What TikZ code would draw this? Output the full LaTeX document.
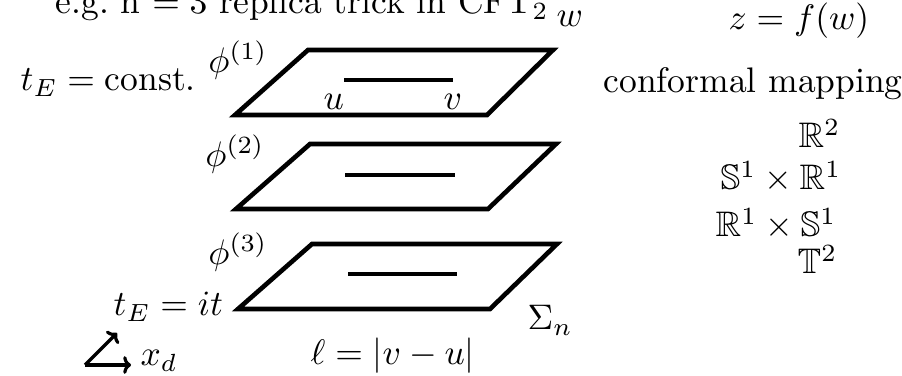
\documentclass[tikz,border=0pt]{standalone}
\usepackage{amsmath,amssymb}
\usepackage{tikz}
\usetikzlibrary{positioning,arrows.meta}
\tikzset{
  sheet/.style={draw=black,line width=1.3pt},
  cut/.style={draw=black,line width=1.3pt},
  axis/.style={-{To[length=2.2pt,width=5pt]},draw=black,line width=0.9pt},
  lbl/.style={inner sep=0pt,anchor=base west}
}

\begin{document}
\begin{tikzpicture}[x=0.0099cm,y=-0.0099cm]
  \useasboundingbox (0,0) rectangle (902,376);

  % title (cut by the frame)
  \node[lbl] (title) at (55,14) {e.g.\ n $=3$ replica trick in CFT$_2$};

  % sheets
  \draw[sheet] (235,115) -- (308,50) -- (553,50) -- (487,115) -- cycle;
  \draw[sheet] (236,209) -- (310,144) -- (556,144) -- (488,209) -- cycle;
  \draw[sheet] (238,309) -- (312,244) -- (557,244) -- (490,309) -- cycle;

  % cuts
  \coordinate (u1) at (344,80);  \coordinate (v1) at (453,80);
  \coordinate (u2) at (345,175); \coordinate (v2) at (455,175);
  \coordinate (u3) at (348,274); \coordinate (v3) at (457,274);
  \draw[cut] (u1) -- (v1);
  \draw[cut] (u2) -- (v2);
  \draw[cut] (u3) -- (v3);

  \node[lbl] (ulab) at (323,110) {$u$};
  \node[lbl] (vlab) at (443,110) {$v$};

  \node (phi1) at (238,60) {$\phi^{(1)}$};
  \node (phi2) at (235,154) {$\phi^{(2)}$};
  \node (phi3) at (238,252) {$\phi^{(3)}$};

  \node[lbl] (tconst) at (20,91) {$t_E=\text{const.}$};
  \node[lbl] (tit) at (113,316) {$t_E=it$};
  \node[lbl] (wlab) at (556,27) {$w$};
  \node[lbl] (sigma) at (527,330) {$\Sigma_n$};
  \node[lbl] (ell) at (310,365) {$\ell=|v-u|$};

  % axes
  \coordinate (o) at (85,365);
  \coordinate (oup) at (117,333);
  \coordinate (oright) at (131,365);
  \draw[axis] (o) -- (oup);
  \draw[axis] (o) -- (oright);
  \node[lbl] (xd) at (140,366) {$x_d$};

  % mapping
  \node[lbl] (zf) at (728,30) {$z=f(w)$};
  \node[lbl] (conf) at (603,93) {conformal mapping};
  \node[lbl] (r2) at (798,148) {$\mathbb{R}^2$};
  \node[lbl] (s1r1) at (720,190) {$\mathbb{S}^1\times\mathbb{R}^1$};
  \node[lbl] (r1s1) at (715,237) {$\mathbb{R}^1\times\mathbb{S}^1$};
  \node[lbl] (t2) at (797,274) {$\mathbb{T}^2$};
\end{tikzpicture}
\end{document}
